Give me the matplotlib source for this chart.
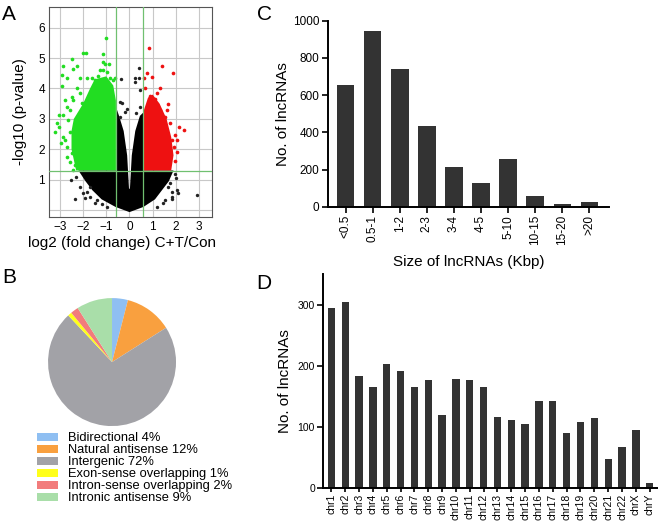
import numpy as np
import matplotlib
matplotlib.use("Agg")
import matplotlib.pyplot as plt

plt.rcParams['font.family'] = ['Liberation Sans', 'DejaVu Sans']

# ---- A: volcano plot (dense areas as outlines, plus stray points)
black_env_x = [0.0, 0.6, 1.1, 1.4, 1.7, 1.9, 0.585, 0.585, 0.45, 0.25, 0.1, 0.02,
               -0.02, -0.1, -0.25, -0.45, -0.585, -0.585, -2.2, -1.9, -1.6, -1.2, -0.6]
black_env_y = [-0.07, 0.1, 0.35, 0.65, 0.95, 1.3, 1.3, 3.2, 3.1, 2.6, 1.8, 0.7,
               0.7, 1.8, 2.6, 3.1, 3.4, 1.3, 1.3, 0.95, 0.65, 0.35, 0.1]
green_env_x = [-0.585, -2.3, -2.5, -2.5, -2.4, -2.0, -1.7, -1.5, -1.0, -0.7, -0.585]
green_env_y = [1.3, 1.3, 2.0, 2.6, 3.0, 3.5, 4.0, 4.3, 4.4, 4.1, 3.6]
red_env_x = [0.585, 1.8, 1.9, 1.8, 1.6, 1.3, 1.0, 0.8, 0.585]
red_env_y = [1.3, 1.3, 1.8, 2.4, 3.0, 3.5, 3.8, 3.7, 3.2]

green_x = [-1.01, -1.99, -1.89, -1.13, -2.49, -2.85, -2.28, -2.45, -1.13, -1.06, -0.88,
           -1.27, -1.16, -2.92, -2.71, -2.14, -0.70, -2.92, -3.14, -3.06, -3.21, -2.85,
           -2.97, -2.63, -2.77, -2.49, -2.56, -3.06, -2.42,
           -1.84, -1.63, -1.49, -1.34, -0.98, -0.84, -0.63, -2.28, -2.14, -2.42, -2.06,
           -2.71, -2.85, -2.56, -2.77, -2.71, -2.71, -2.56, -2.35, -2.49]
green_y = [5.65, 5.17, 5.17, 5.12, 4.97, 4.74, 4.75, 4.64, 4.87, 4.80, 4.80,
           4.60, 4.60, 4.44, 4.33, 4.33, 4.28, 4.08, 2.85, 2.74, 2.58, 2.41,
           2.19, 2.96, 3.62, 3.73, 3.29, 3.13, 1.32,
           4.33, 4.36, 4.28, 4.41, 4.55, 4.36, 4.33, 4.00, 3.84, 3.62, 3.51,
           3.40, 3.13, 2.58, 2.30, 2.08, 1.75, 1.59, 1.48, 1.86]
red_x = [0.85, 1.39, 0.74, 1.86, 0.97, 0.625, 0.66, 1.31, 0.88, 1.10, 1.67, 2.36,
         2.15, 1.97, 1.83, 1.90, 1.54, 2.03, 1.97,
         1.31, 1.53, 1.74, 1.60, 1.02, 1.67, 2.03, 1.17]
red_y = [5.34, 4.75, 4.50, 4.52, 4.39, 4.36, 4.00, 4.03, 3.75, 3.64, 3.49, 2.65,
         2.72, 2.47, 2.30, 2.08, 2.58, 1.92, 1.60,
         3.29, 3.07, 2.85, 3.29, 3.51, 2.41, 2.30, 3.84]
black_x = [0.40, 0.24, 0.43, -0.37, 0.45, 0.22, -0.42, -0.32, -0.09, -0.19, 0.45, 0.28,
           -0.40, -2.53, -2.35, -1.92, -1.49, -1.17, -1.85, -1.70, 2.90, 2.00, 1.96,
           1.82, 1.53, 1.85, 1.67, -2.30, 2.10,
           -2.13, -1.99, -1.70, -1.42, -0.99, 1.17, 1.46, 1.82, 1.74, 2.03]
black_y = [4.68, 4.36, 4.36, 4.31, 3.95, 4.22, 3.56, 3.53, 3.34, 3.23, 3.40, 3.19,
           3.07, 0.99, 0.35, 0.38, 0.22, 0.20, 0.60, 0.77, 0.49, 1.04, 1.17,
           0.60, 0.33, 0.35, 0.77, 1.10, 0.55,
           0.77, 0.55, 0.44, 0.33, 0.11, 0.11, 0.22, 0.44, 0.88, 0.66]
fc_cut = 0.585
p_cut = 1.3

# ---- B: pie
pie_labels = ['Bidirectional 4%', 'Natural antisense 12%', 'Intergenic 72%',
              'Exon-sense overlapping 1%', 'Intron-sense overlapping 2%',
              'Intronic antisense 9%']
pie_values = [4, 12, 72, 1, 2, 9]
pie_colors = ['#8fbff2', '#f9a03f', '#a2a2a7', '#ffff1a', '#f27c7c', '#a9dea9']

# ---- C: size distribution
size_labels = ['<0.5', '0.5-1', '1-2', '2-3', '3-4', '4-5', '5-10', '10-15', '15-20', '>20']
size_counts = [654, 945, 740, 435, 212, 126, 256, 56, 13, 27]

# ---- D: per chromosome
chr_labels = ['chr%d' % i for i in range(1, 23)] + ['chrX', 'chrY']
chr_counts = [295, 304, 183, 165, 203, 191, 165, 177, 120, 179, 177, 166,
              117, 111, 105, 143, 143, 91, 109, 115, 48, 67, 95, 8]

bar_color = '#333333'

fig = plt.figure(figsize=(6.58, 5.26), dpi=100)

# A
axA = fig.add_axes([0.0745, 0.5875, 0.2477, 0.399])
axA.set_xlim(-3.47, 3.56)
axA.set_ylim(-0.23, 6.68)
axA.set_xticks(range(-3, 4))
axA.set_yticks(range(0, 7))
axA.set_yticklabels(['', '1', '2', '3', '4', '5', '6'])
axA.grid(True, color='#c8c8c8', linewidth=0.8)
axA.set_axisbelow(True)
axA.tick_params(length=0, labelsize=8.5, pad=3)
for s in axA.spines.values():
    s.set_color('#555555')
    s.set_linewidth(0.8)
axA.fill(black_env_x, black_env_y, color='black', lw=0, zorder=2)
axA.fill(green_env_x, green_env_y, color='#22dd22', lw=0, zorder=2)
axA.fill(red_env_x, red_env_y, color='#ee1111', lw=0, zorder=2)
axA.scatter(black_x, black_y, s=6, color='#222222', lw=0, zorder=3)
axA.scatter(green_x, green_y, s=7, color='#22dd22', lw=0, zorder=3)
axA.scatter(red_x, red_y, s=7, color='#ee1111', lw=0, zorder=3)
for v in (-fc_cut, fc_cut):
    axA.axvline(v, color='#70c070', lw=0.9, zorder=4)
axA.axhline(p_cut, color='#70c070', lw=0.9, zorder=4)
axA.set_xlabel('log2 (fold change) C+T/Con', fontsize=11)
axA.xaxis.set_label_coords(0.45, -0.09)
axA.set_ylabel('-log10 (p-value)', fontsize=11)
axA.yaxis.set_label_coords(-0.135, 0.5)

# B
axB = fig.add_axes([0.073, 0.19, 0.1945, 0.2433])
wedges, _ = axB.pie(pie_values, colors=pie_colors, startangle=90, counterclock=False,
                    wedgeprops=dict(linewidth=0))
axB.set_xlim(-1, 1)
axB.set_ylim(-1, 1)
axB.set_aspect('equal')
fig.legend(wedges, pie_labels, loc='upper left', bbox_to_anchor=(0.056, 0.178),
           frameon=False, fontsize=9.3, borderpad=0, borderaxespad=0,
           handlelength=1.6, handleheight=0.55, handletextpad=0.8, labelspacing=0.0)

# C
axC = fig.add_axes([0.498, 0.607, 0.4275, 0.3536])
xc = np.arange(len(size_counts))
axC.bar(xc, size_counts, width=0.65, color=bar_color)
axC.set_xlim(-0.66, 9.72)
axC.set_ylim(0, 1000)
axC.set_yticks(range(0, 1001, 200))
axC.set_xticks(xc)
axC.set_xticklabels(size_labels, rotation=90)
axC.tick_params(labelsize=8.5, width=1.2, length=4, pad=2)
for s in ('top', 'right'):
    axC.spines[s].set_visible(False)
for s in ('left', 'bottom'):
    axC.spines[s].set_linewidth(1.4)
axC.set_xlabel('Size of lncRNAs (Kbp)', fontsize=11, labelpad=7)
axC.set_ylabel('No. of lncRNAs', fontsize=11)
axC.yaxis.set_label_coords(-0.134, 0.5)

# D
axD = fig.add_axes([0.4914, 0.0717, 0.5086, 0.4074])
xd = np.arange(len(chr_counts))
axD.bar(xd, chr_counts, width=0.53, color=bar_color)
axD.set_xlim(-0.58, 23.6)
axD.set_ylim(0, 350)
axD.set_yticks(range(0, 301, 100))
axD.set_xticks(xd)
axD.set_xticklabels(chr_labels, rotation=90)
axD.tick_params(axis='y', labelsize=7.5, width=1.2, length=4, pad=2)
axD.tick_params(axis='x', labelsize=7.5, width=1.2, length=3, pad=1)
for s in ('top', 'right'):
    axD.spines[s].set_visible(False)
for s in ('left', 'bottom'):
    axD.spines[s].set_linewidth(1.4)
axD.set_ylabel('No. of lncRNAs', fontsize=11)
axD.yaxis.set_label_coords(-0.094, 0.5)

# panel letters
for letter, x, y in (('A', 0.003, 0.99), ('B', 0.003, 0.49), ('C', 0.39, 0.99), ('D', 0.39, 0.48)):
    fig.text(x, y, letter, fontsize=15, va='top', ha='left')

fig.savefig('out.png', dpi=100)
